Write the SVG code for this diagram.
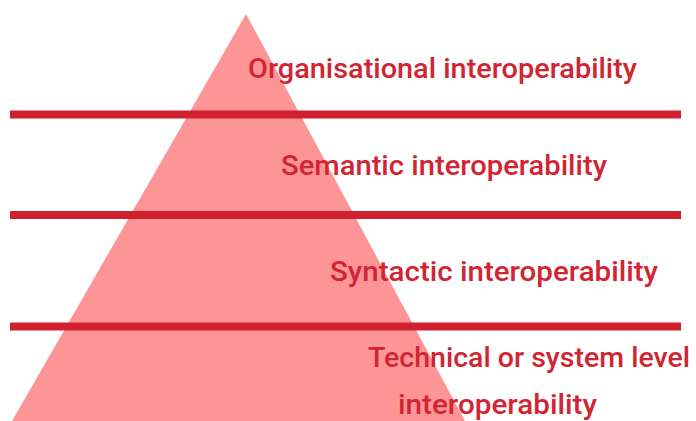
<svg xmlns="http://www.w3.org/2000/svg" width="696" height="421" viewBox="0 0 696 421">
  <style>
    .band { stroke: #d0202e; stroke-width: 8; }
    .label { font-family: Roboto, "Liberation Sans", sans-serif; font-weight: 500; font-size: 27px; fill: #d22432; }
  </style>
  <rect width="696" height="421" fill="#ffffff"/>
  <!-- pyramid -->
  <g id="pyramid">
    <polygon points="246,14 465,421 12,421" fill="#fd9597"/>
  </g>
  <!-- level separators -->
  <g id="connectors">
    <line class="band" x1="10" y1="114.5" x2="681" y2="114.5"/>
    <line class="band" x1="10" y1="215" x2="681" y2="215"/>
    <line class="band" x1="10" y1="326.5" x2="681" y2="326.5"/>
  </g>
  <g id="organisational">
    <text class="label" x="248" y="78" textLength="389" lengthAdjust="spacingAndGlyphs">Organisational interoperability</text>
  </g>
  <g id="semantic">
    <text class="label" x="281" y="175" textLength="326" lengthAdjust="spacingAndGlyphs">Semantic interoperability</text>
  </g>
  <g id="syntactic">
    <text class="label" x="330" y="281" textLength="328" lengthAdjust="spacingAndGlyphs">Syntactic interoperability</text>
  </g>
  <g id="technical">
    <text class="label" x="368" y="367" textLength="322" lengthAdjust="spacingAndGlyphs">Technical or system level</text>
    <text class="label" x="398" y="414" textLength="199" lengthAdjust="spacingAndGlyphs">interoperability</text>
  </g>
</svg>
